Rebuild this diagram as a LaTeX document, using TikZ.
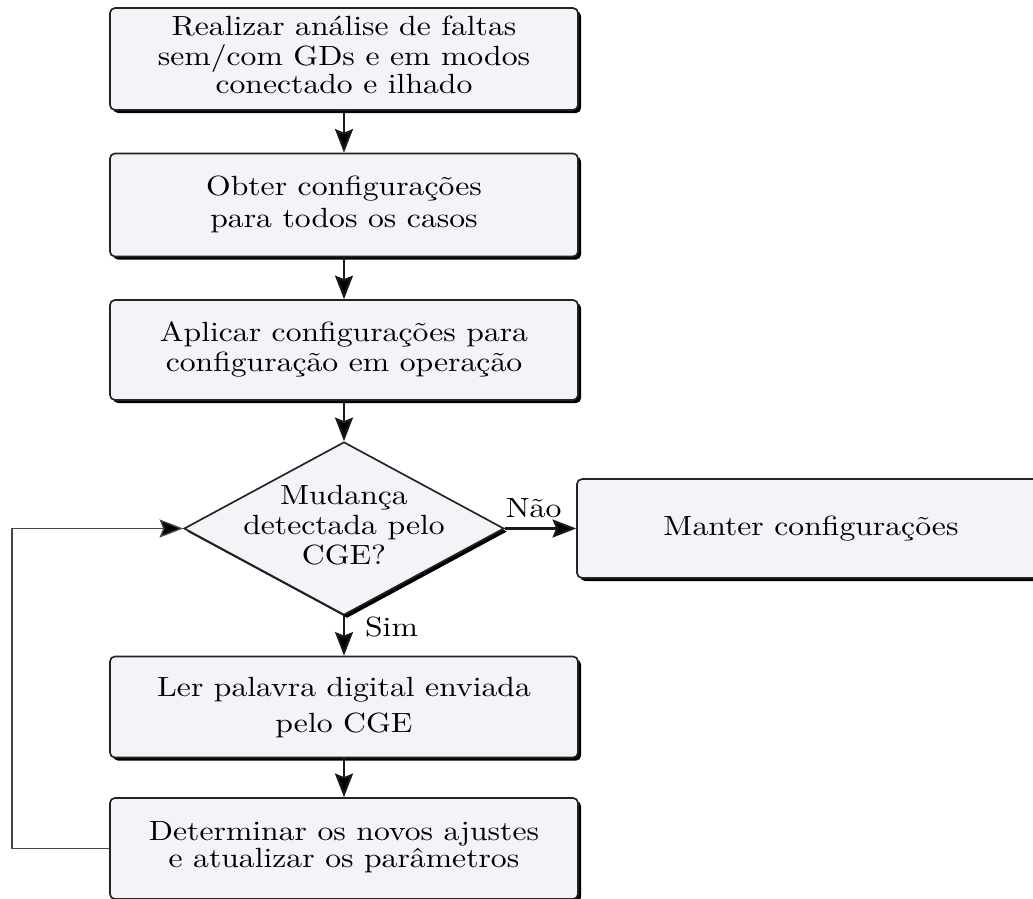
\documentclass[tikz,border=0pt]{standalone}
\usepackage{fontspec}
\usepackage{graphicx}
\usetikzlibrary{arrows.meta,shapes.geometric,shadows}

\definecolor{boxfill}{RGB}{243,243,248}
\definecolor{edge}{RGB}{35,35,35}
\definecolor{wire}{RGB}{25,25,25}

% Slightly widened Computer Modern text, centred lines with a given line skip
\newcommand\flowtext[2]{\scalebox{1.14}[1]{\fontsize{10}{#1}\selectfont\begin{tabular}{@{}c@{}}#2\end{tabular}}}

\tikzset{
  boxshadow/.style={drop shadow={shadow xshift=1.1pt, shadow yshift=-1.1pt, fill=black, opacity=1}},
  procbox/.style={draw=edge, line width=0.6pt, fill=boxfill, rounded corners=1.8pt,
    inner sep=0pt, minimum width=168.5pt, boxshadow},
  decision/.style={diamond, draw=edge, line width=0.6pt, fill=boxfill, inner sep=0pt,
    minimum width=115.2pt, minimum height=62.3pt, boxshadow},
  tipstyle/.style={-{Stealth[length=8.5pt, width=6.5pt, inset=1.3pt, fill=black]}},
  flow/.style={draw=wire, line width=0.8pt, tipstyle},
  loopline/.style={draw=wire!80, line width=0.5pt, tipstyle},
  edgelabel/.style={inner sep=0pt}
}

\begin{document}
\begin{tikzpicture}[x=0.36pt, y=-0.36pt]
  \useasboundingbox (0,0) rectangle (1033,899);
  \clip (0,0) rectangle (1033,899);

  % process steps
  \node[procbox, minimum height=36.7pt] (b1) at (344,59)
    {\flowtext{10.2pt}{Realizar análise de faltas\\ sem/com GDs e em modos\\ conectado e ilhado}};
  \node[procbox, minimum height=37.1pt] (b2) at (344,205)
    {\flowtext{11.7pt}{Obter configurações\\ para todos os casos}};
  \node[procbox, minimum height=36pt] (b3) at (344,350)
    {\flowtext{10.8pt}{Aplicar configurações para\\ configuração em operação}};

  % decision
  \node[decision] (dec) at (344,528.5) {};
  \node[inner sep=0pt] (dectext) at (dec.center)
    {\flowtext{10.8pt}{Mudança\\ detectada pelo\\ CGE?}};

  \node[procbox, minimum height=35.6pt] (keep) at (811,528.5)
    {\flowtext{12pt}{Manter configurações}};
  \node[procbox, minimum height=36.4pt] (b4) at (344,707)
    {\flowtext{13pt}{Ler palavra digital enviada\\ pelo CGE}};
  \node[procbox, minimum height=36.4pt] (b5) at (344,848.5)
    {\flowtext{9.7pt}{Determinar os novos ajustes\\ e atualizar os parâmetros}};

  \coordinate (loopx) at (12,0);

  % connectors
  \draw[flow] (b1.south) -- (b2.north);
  \draw[flow] (b2.south) -- (b3.north);
  \draw[flow] (b3.south) -- (dec.north);
  \draw[flow] (dec.east) -- node[edgelabel, pos=0, anchor=base west, yshift=4pt]
    {\flowtext{12pt}{Não}} (keep.west);
  \draw[flow] (dec.south) -- node[edgelabel, pos=0.36, anchor=west, xshift=7.2pt]
    {\flowtext{12pt}{Sim}} (b4.north);
  \draw[flow] (b4.south) -- (b5.north);
  \draw[loopline] (b5.west) -- (b5.west -| loopx) |- (dec.west);
\end{tikzpicture}
\end{document}
